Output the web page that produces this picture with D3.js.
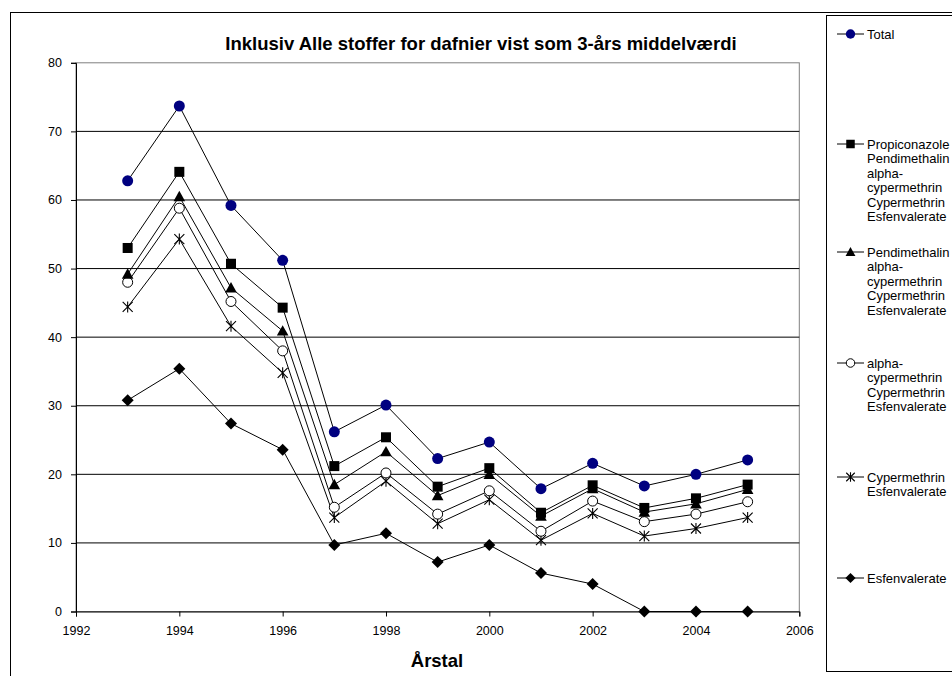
<!DOCTYPE html>
<html>
<head>
<meta charset="utf-8">
<script src="https://cdn.jsdelivr.net/npm/d3@7"></script>
<style>
  html, body { margin: 0; padding: 0; background: #fff; }
  svg { display: block; font-family: Arial, "Liberation Sans", sans-serif; }
</style>
</head>
<body>
<svg id="chart" width="952" height="676"></svg>
<script>
const years = [1993, 1994, 1995, 1996, 1997, 1998, 1999, 2000, 2001, 2002, 2003, 2004, 2005];
const total =        [62.8, 73.7, 59.2, 51.2, 26.2, 30.1, 22.3, 24.7, 17.9, 21.6, 18.3, 20.0, 22.1];
const propiconazole = [53.0, 64.1, 50.7, 44.3, 21.2, 25.4, 18.2, 20.9, 14.4, 18.4, 15.1, 16.5, 18.5];
const pendimethalin = [49.2, 60.5, 47.2, 40.9, 18.5, 23.3, 16.9, 20.0, 13.9, 17.9, 14.5, 15.7, 17.8];
const alphaCyper =    [48.0, 58.8, 45.2, 38.0, 15.2, 20.2, 14.2, 17.6, 11.7, 16.1, 13.1, 14.2, 16.0];
const cypermethrin =  [44.4, 54.3, 41.6, 34.8, 13.7, 19.0, 12.8, 16.3, 10.4, 14.3, 11.0, 12.1, 13.7];
const esfenvalerate = [30.8, 35.4, 27.4, 23.6, 9.7, 11.4, 7.2, 9.7, 5.6, 4.0, 0, 0, 0];

const yTicks = [0, 10, 20, 30, 40, 50, 60, 70, 80];
const xTicks = [1992, 1994, 1996, 1998, 2000, 2002, 2004, 2006];

const seriesNames = [
  ["Total"],
  ["Propiconazole", "Pendimethalin", "alpha-", "cypermethrin", "Cypermethrin", "Esfenvalerate"],
  ["Pendimethalin", "alpha-", "cypermethrin", "Cypermethrin", "Esfenvalerate"],
  ["alpha-", "cypermethrin", "Cypermethrin", "Esfenvalerate"],
  ["Cypermethrin", "Esfenvalerate"],
  ["Esfenvalerate"]
];
const seriesValues = [total, propiconazole, pendimethalin, alphaCyper, cypermethrin, esfenvalerate];
const markers = ["dot", "square", "triangle", "circle", "star", "diamond"];

const titleText = "Inklusiv Alle stoffer for dafnier vist som 3-års middelværdi";
const xTitle = "Årstal";

// legend entry layout (pixel rows of first text line)
const legendRows = [34, 144, 252, 363, 477, 578];

const svg = d3.select("#chart");

// outer chart border
svg.append("rect").attr("x", 10.5).attr("y", 12.5).attr("width", 1000).attr("height", 700)
  .attr("fill", "#fff").attr("stroke", "#000").attr("stroke-width", 1);

const plot = {left: 76, right: 799.3, top: 62.8, bottom: 611.5};
const x = d3.scaleLinear().domain([1992, 2006]).range([plot.left, plot.right]);
const y = d3.scaleLinear().domain([0, 80]).range([plot.bottom, plot.top]);

// plot area border (gray)
svg.append("rect").attr("x", plot.left).attr("y", plot.top)
  .attr("width", plot.right - plot.left).attr("height", plot.bottom - plot.top)
  .attr("fill", "none").attr("stroke", "#808080").attr("stroke-width", 1);

// gridlines
svg.append("g").selectAll("line").data(yTicks.filter(d => d > 0 && d < 80)).join("line")
  .attr("x1", plot.left).attr("x2", plot.right)
  .attr("y1", d => y(d)).attr("y2", d => y(d))
  .attr("stroke", "#000").attr("stroke-width", 1);

// y axis
const yAxis = svg.append("g").attr("transform", `translate(${plot.left},0)`)
  .call(d3.axisLeft(y).tickValues(yTicks).tickSize(5).tickPadding(9).tickFormat(d3.format("d")));
yAxis.select(".domain").attr("stroke", "#000");
yAxis.selectAll("text").attr("font-size", "12.5px").attr("fill", "#000")
  .attr("font-family", "Arial, 'Liberation Sans', sans-serif");

// x axis
const xAxis = svg.append("g").attr("transform", `translate(0,${plot.bottom})`)
  .call(d3.axisBottom(x).tickValues(xTicks).tickSize(5).tickPadding(10).tickFormat(d3.format("d")));
xAxis.select(".domain").attr("stroke", "#000");
xAxis.selectAll("text").attr("font-size", "12.5px").attr("fill", "#000")
  .attr("font-family", "Arial, 'Liberation Sans', sans-serif");

// marker drawing
function drawMarker(g, type, cx, cy, scale) {
  const s = scale || 1;
  if (type === "dot") {
    g.append("circle").attr("cx", cx).attr("cy", cy).attr("r", 5.5 * s).attr("fill", "#000080");
  } else if (type === "square") {
    const h = 5 * s;
    g.append("rect").attr("x", cx - h).attr("y", cy - h).attr("width", 2 * h).attr("height", 2 * h).attr("fill", "#000");
  } else if (type === "triangle") {
    const h = 5.8 * s;
    g.append("path").attr("d", `M${cx},${cy - h}L${cx + h},${cy + h * 0.8}L${cx - h},${cy + h * 0.8}Z`).attr("fill", "#000");
  } else if (type === "circle") {
    g.append("circle").attr("cx", cx).attr("cy", cy).attr("r", 5 * s).attr("fill", "#fff")
      .attr("stroke", "#000").attr("stroke-width", 1);
  } else if (type === "star") {
    const h = 5 * s;
    g.append("path").attr("d",
      `M${cx - h},${cy - h}L${cx + h},${cy + h}M${cx - h},${cy + h}L${cx + h},${cy - h}M${cx},${cy - h * 1.1}L${cx},${cy + h * 1.1}`)
      .attr("stroke", "#000").attr("stroke-width", 1.1).attr("fill", "none");
  } else if (type === "diamond") {
    const h = 6 * s;
    g.append("path").attr("d", `M${cx},${cy - h}L${cx + h},${cy}L${cx},${cy + h}L${cx - h},${cy}Z`).attr("fill", "#000");
  }
}

const line = d3.line().x((d, i) => x(years[i])).y(d => y(d));

// draw series (bottom first so Total on top)
for (let s = seriesValues.length - 1; s >= 0; s--) {
  const vals = seriesValues[s];
  const g = svg.append("g");
  g.append("path").datum(vals).attr("d", line).attr("fill", "none")
    .attr("stroke", "#000").attr("stroke-width", 1);
  vals.forEach((v, i) => drawMarker(g, markers[s], x(years[i]), y(v)));
}

// title
svg.append("text").attr("x", 481).attr("y", 50).attr("text-anchor", "middle")
  .attr("font-size", "18.5px").attr("font-weight", "bold").attr("fill", "#000").text(titleText);

// x axis title
svg.append("text").attr("x", 437).attr("y", 667).attr("text-anchor", "middle")
  .attr("font-size", "18.5px").attr("font-weight", "bold").attr("fill", "#000").text(xTitle);

// legend
svg.append("rect").attr("x", 826.5).attr("y", 15.5).attr("width", 200).attr("height", 656)
  .attr("fill", "#fff").attr("stroke", "#000").attr("stroke-width", 1);
seriesNames.forEach((names, i) => {
  const cy = legendRows[i];
  const g = svg.append("g");
  g.append("line").attr("x1", 837).attr("x2", 864).attr("y1", cy).attr("y2", cy)
    .attr("stroke", "#000").attr("stroke-width", 1);
  drawMarker(g, markers[i], 850.5, cy, 0.85);
  const t = g.append("text").attr("x", 867).attr("y", cy).attr("font-size", "13px").attr("fill", "#000");
  names.forEach((n, j) => {
    t.append("tspan").attr("x", 867).attr("y", cy + j * 14.5).attr("dy", "0.35em").text(n);
  });
});
</script>
</body>
</html>
